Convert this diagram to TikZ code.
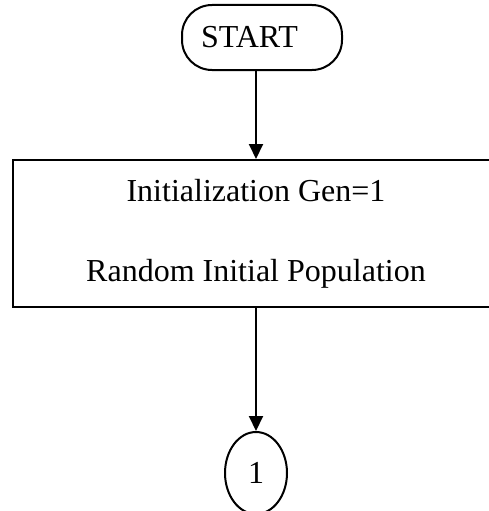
\documentclass[tikz,border=0pt]{standalone}
\usepackage{fontspec}
\setmainfont{Liberation Serif}
\usetikzlibrary{shapes.geometric,arrows.meta}
\begin{document}
\begin{tikzpicture}[x=1pt,y=-1pt,
  every node/.style={font=\fontsize{32}{38}\selectfont},
  startbox/.style={draw, line width=2pt, rounded corners=30pt, minimum width=160pt, minimum height=65pt, inner sep=0pt},
  procbox/.style={draw, line width=2pt, minimum width=486pt, minimum height=147pt, align=center, inner sep=0pt},
  connbox/.style={draw, ellipse, line width=2pt, minimum width=62pt, minimum height=82pt, inner sep=0pt},
  arr/.style={line width=2pt, -{Triangle[length=15pt,width=14pt]}}]
\clip (0,0) rectangle (489,511);
\fill[white] (0,0) rectangle (489,511);
\node[startbox] (start) at (262,37.5) {START\hspace{25pt}\null};
\node[procbox] (init) at (256,233.5) {Initialization Gen=1\\[42pt]Random Initial Population};
\node[connbox] (c1) at (256,473) {1};
\draw[arr] (init.north |- start.south) -- (init.north);
\draw[arr] (init.south) -- (c1.north);
\end{tikzpicture}
\end{document}
